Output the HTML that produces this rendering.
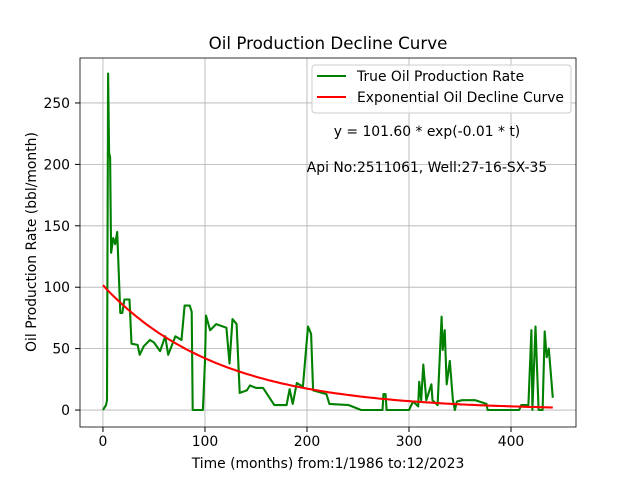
<!DOCTYPE html>
<html><head><meta charset="utf-8"><style>
body{margin:0;background:#fff;}
svg{display:block;font-family:"DejaVu Sans","Liberation Sans",sans-serif;}
</style></head><body>
<svg id="chart" width="640" height="480"></svg>
<script>
const months=[0,3,4,5,6,7,8,10,12,14,16,17,19,21,26,28,34,36,40,46,50,56,61,64,71,77,80,85,87,88,98,100,101,105,111,121,124,127,131,134,141,144,150,157,168,180,183,186,190,196,201,204,206,219,222,241,253,274,275,277,278,300,304,309,310,312,314,317,322,323,328,332,333,335,337,340,343,345,347,352,365,376,377,408,410,417,420,421,424,427,431,433,435,437,441];
const oilRate=[0,4,8,274,209,206,128,140,135,145,100,79,79,90,90,54,53,45,52,57,55,48,60,45,60,57,85,85,80,0,0,40,77,65,70,67,38,74,70,14,16,20,18,18,4,4,17,5,22,19,68,62,16,13,5,4,0,0,13,13,0,0,7,3,23,8,37,8,21,8,4,76,49,65,21,40,8,0,7,8,8,5,0,0,4,4,65,0,68,0,0,64,43,50,10];
const fitA=101.6, fitK=0.0088, fitEnd=441;
const xTicks=[0,100,200,300,400], yTicks=[0,50,100,150,200,250];
const L=80,R=576,T=58,B=427, xmin=-22.5,xmax=463.7,ymin=-13.8,ymax=286.6;
const X=v=>L+(v-xmin)/(xmax-xmin)*(R-L), Y=v=>B-(v-ymin)/(ymax-ymin)*(B-T);
const svg=document.getElementById('chart'),NS='http://www.w3.org/2000/svg';
function mk(t,a,p){const e=document.createElementNS(NS,t);for(const k in a)e.setAttribute(k,a[k]);(p||svg).appendChild(e);return e;}
xTicks.forEach(v=>{const g=mk('line',{x1:X(v),x2:X(v),y1:T,y2:B,stroke:'#b0b0b0','stroke-width':0.8});


mk('line',{x1:X(v),x2:X(v),y1:B,y2:B+5,stroke:'#000'});
const t=mk('text',{x:X(v),y:B+19,'text-anchor':'middle','font-size':13.9});t.textContent=v;

});
yTicks.forEach(v=>{const g=mk('line',{x1:L,x2:R,y1:Y(v),y2:Y(v),stroke:'#b0b0b0','stroke-width':0.8});


mk('line',{x1:L-5,x2:L,y1:Y(v),y2:Y(v),stroke:'#000'});
const t=mk('text',{x:L-10,y:Y(v)+5,'text-anchor':'end','font-size':13.9});t.textContent=v;

});
let d=months.map((m,i)=>(i?'L':'M')+X(m).toFixed(1)+','+Y(oilRate[i]).toFixed(1)).join('');
const gl=mk('path',{d,fill:'none',stroke:'green','stroke-width':2.1,'stroke-linejoin':'round'});


let fd='';for(let t=0;t<=fitEnd;t+=3){fd+=(t?'L':'M')+X(t).toFixed(1)+','+Y(fitA*Math.exp(-fitK*t)).toFixed(1);}
const rl=mk('path',{d:fd,fill:'none',stroke:'red','stroke-width':2.1});


mk('rect',{x:L,y:T,width:R-L,height:B-T,fill:'none',stroke:'#000','stroke-width':0.8});
</script>
<script>
(function(){const svg=document.getElementById('chart'),NS='http://www.w3.org/2000/svg';
function mk(t,a){const e=document.createElementNS(NS,t);for(const k in a)e.setAttribute(k,a[k]);svg.appendChild(e);return e;}
function txt(s,a,name){const e=mk('text',a);e.textContent=s;

}
txt('Oil Production Decline Curve',{x:328,y:49,'text-anchor':'middle','font-size':16.7},'chart-title');
txt('Time (months) from:1/1986 to:12/2023',{x:328,y:468,'text-anchor':'middle','font-size':13.9},'x-axis-title');
txt('Oil Production Rate (bbl/month)',{x:0,y:0,'text-anchor':'middle','font-size':13.9,transform:'translate(36,242) rotate(-90)'},'y-axis-title');
const lg=mk('rect',{x:312,y:65,width:259,height:48,fill:'#fff','fill-opacity':0.8,stroke:'#ccc',rx:3});


mk('line',{x1:317,x2:346,y1:76,y2:76,stroke:'green','stroke-width':2.1});
txt('True Oil Production Rate',{x:357,y:81,'font-size':13.9},'legend-entry-true');
mk('line',{x1:317,x2:346,y1:97,y2:97,stroke:'red','stroke-width':2.1});
txt('Exponential Oil Decline Curve',{x:357,y:102,'font-size':13.9},'legend-entry-fit');
txt('y = 101.60 * exp(-0.01 * t)',{x:427,y:136,'text-anchor':'middle','font-size':13.9},'equation-annotation');
txt('Api No:2511061, Well:27-16-SX-35',{x:427,y:172,'text-anchor':'middle','font-size':13.9},'well-annotation');
})();
</script>
</body></html>
